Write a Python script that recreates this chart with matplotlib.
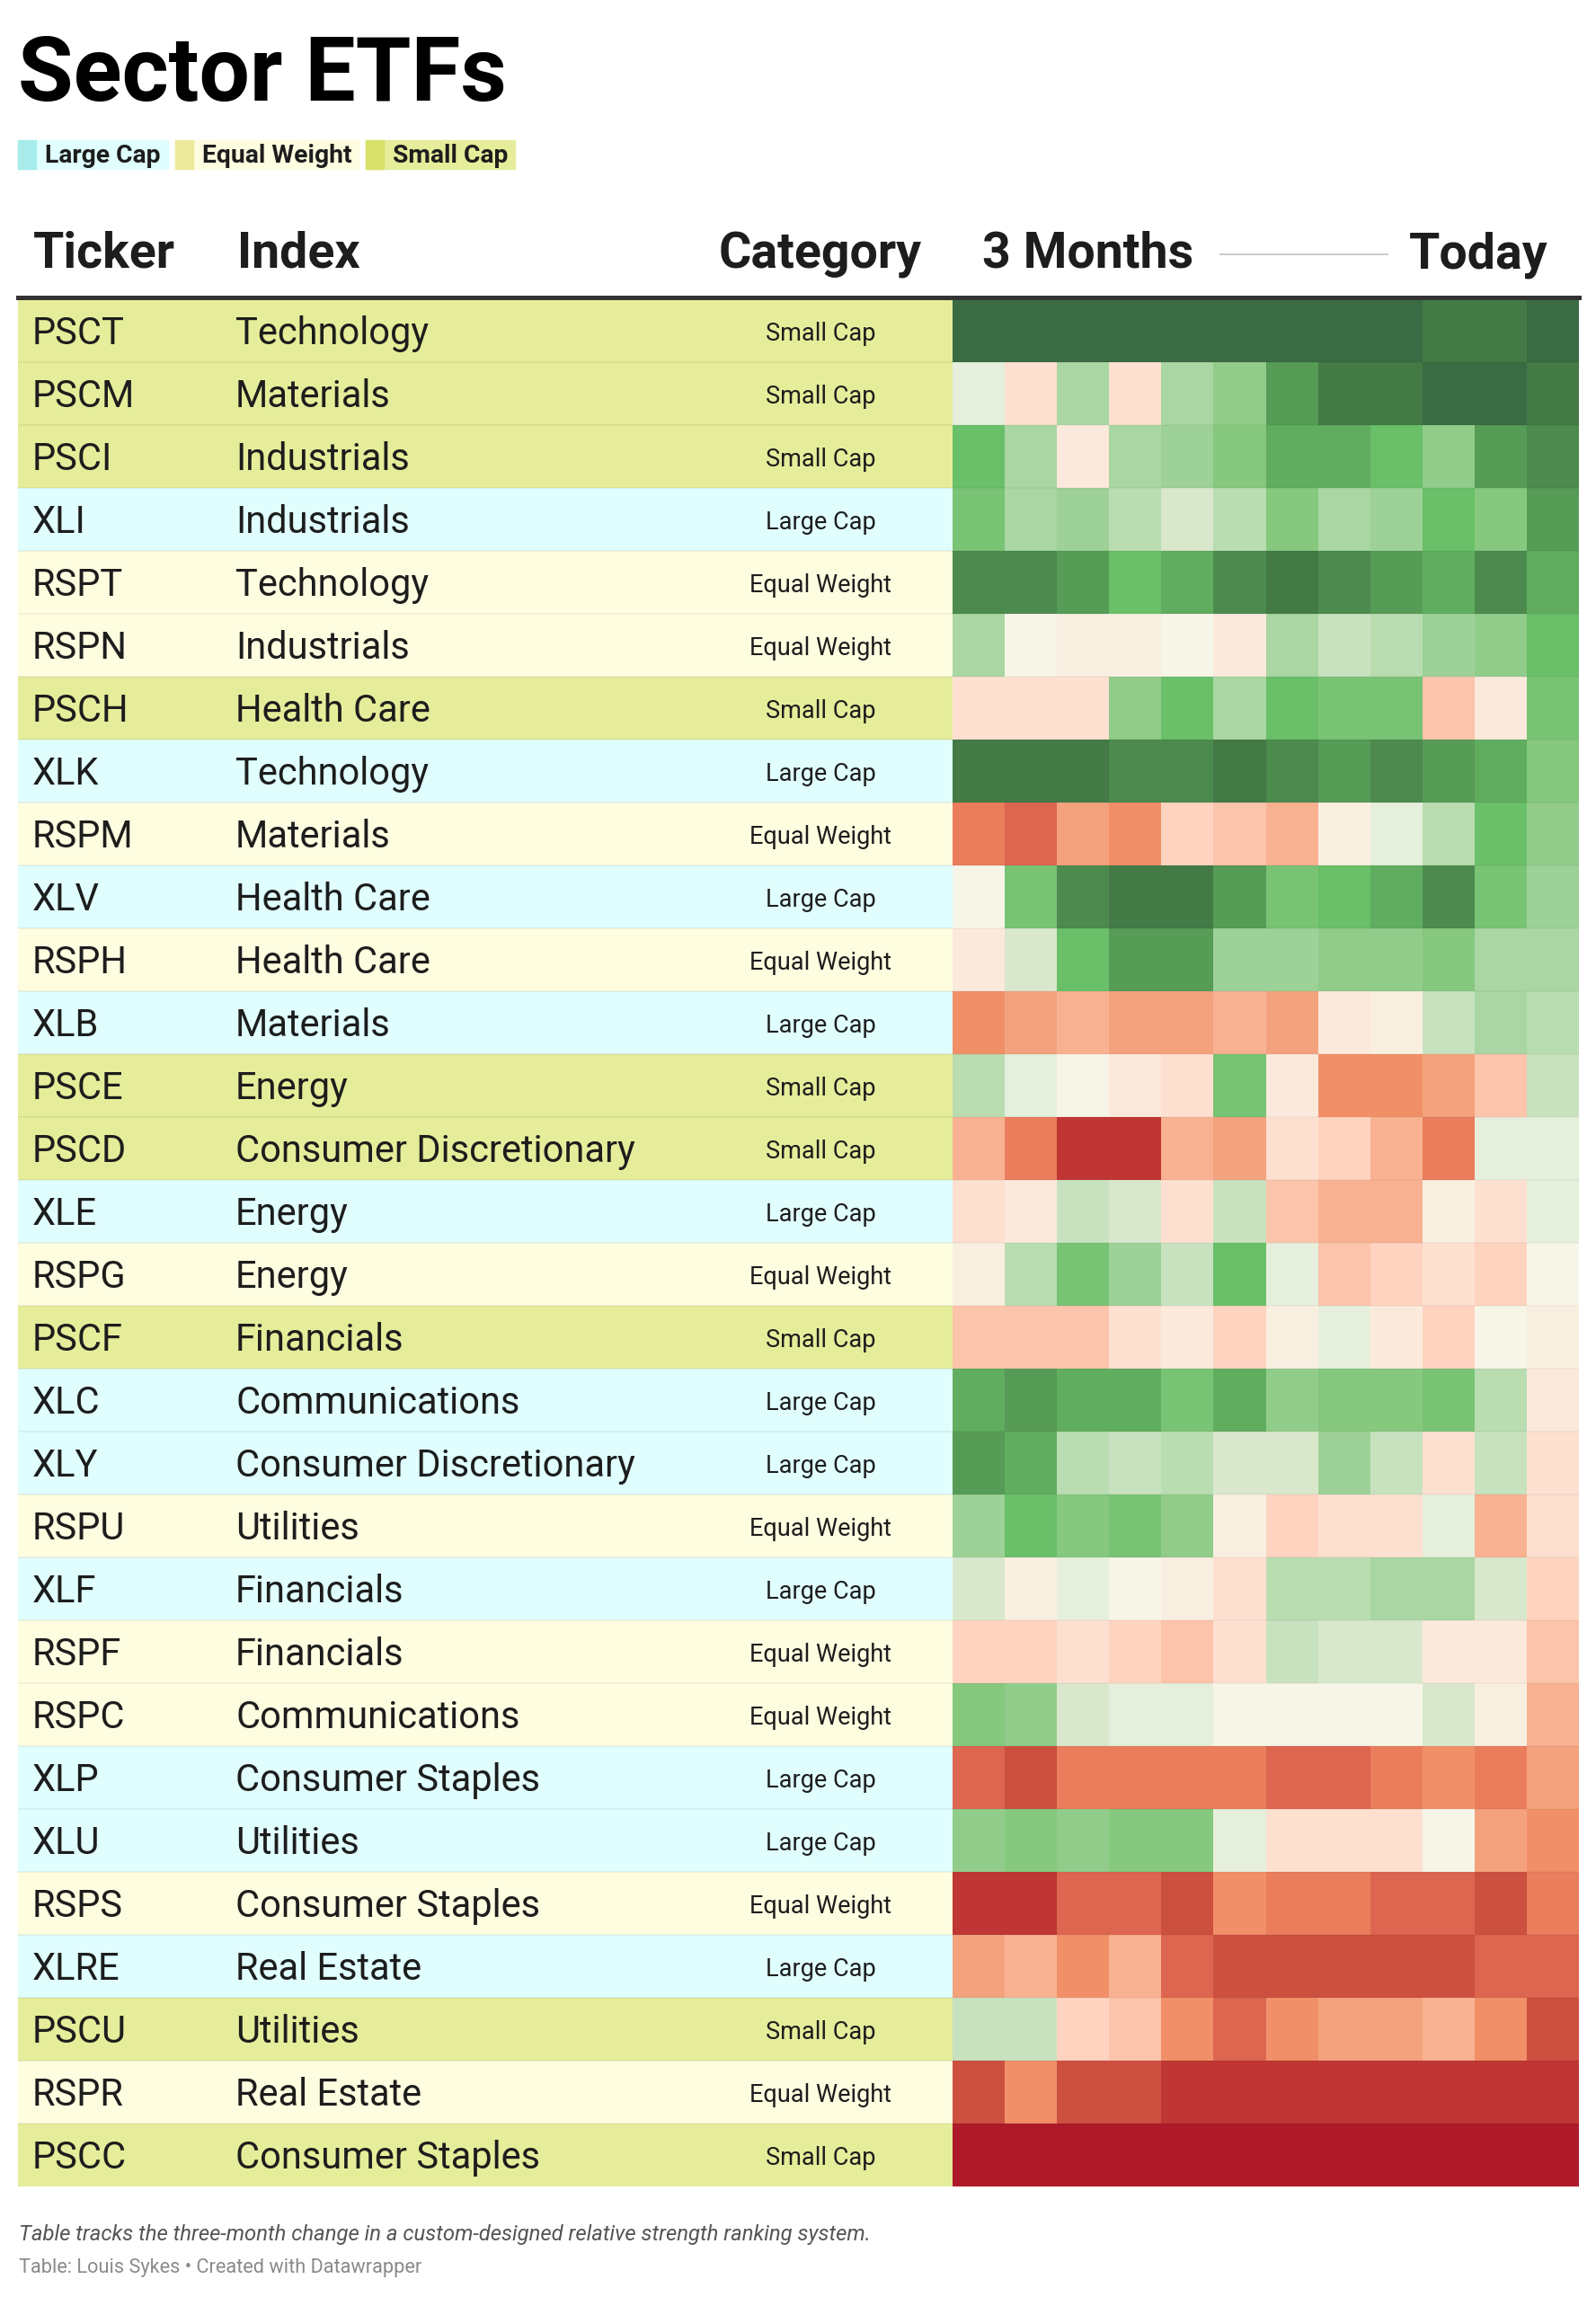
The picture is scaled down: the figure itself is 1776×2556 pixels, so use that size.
import matplotlib
matplotlib.use("Agg")
import numpy as np
import matplotlib.pyplot as plt
from matplotlib.colors import ListedColormap
from matplotlib.patches import Rectangle
from matplotlib.lines import Line2D

plt.rcParams['font.family'] = ['Roboto', 'DejaVu Sans']

# --- data -----------------------------------------------------------------
tickers = ["PSCT", "PSCM", "PSCI", "XLI", "RSPT", "RSPN", "PSCH", "XLK", "RSPM", "XLV",
           "RSPH", "XLB", "PSCE", "PSCD", "XLE", "RSPG", "PSCF", "XLC", "XLY", "RSPU",
           "XLF", "RSPF", "RSPC", "XLP", "XLU", "RSPS", "XLRE", "PSCU", "RSPR", "PSCC"]

sectors = ["Technology", "Materials", "Industrials", "Industrials", "Technology",
           "Industrials", "Health Care", "Technology", "Materials", "Health Care",
           "Health Care", "Materials", "Energy", "Consumer Discretionary", "Energy",
           "Energy", "Financials", "Communications", "Consumer Discretionary", "Utilities",
           "Financials", "Financials", "Communications", "Consumer Staples", "Utilities",
           "Consumer Staples", "Real Estate", "Utilities", "Real Estate", "Consumer Staples"]

categories = ["Small Cap", "Small Cap", "Small Cap", "Large Cap", "Equal Weight",
              "Equal Weight", "Small Cap", "Large Cap", "Equal Weight", "Large Cap",
              "Equal Weight", "Large Cap", "Small Cap", "Small Cap", "Large Cap",
              "Equal Weight", "Small Cap", "Large Cap", "Large Cap", "Equal Weight",
              "Large Cap", "Equal Weight", "Equal Weight", "Large Cap", "Large Cap",
              "Equal Weight", "Large Cap", "Small Cap", "Equal Weight", "Small Cap"]

# relative-strength level, 3 months ago -> today (12 steps)
strength = [
    [15, 15, 15, 15, 15, 15, 15, 15, 15, 14, 14, 15],
    [1, -3, 5, -3, 5, 7, 12, 14, 14, 15, 15, 14],
    [10, 5, -2, 5, 6, 8, 11, 11, 10, 7, 12, 13],
    [9, 5, 6, 4, 2, 4, 8, 5, 6, 10, 8, 12],
    [13, 13, 12, 10, 11, 13, 14, 13, 12, 11, 13, 11],
    [5, 0, -1, -1, 0, -2, 5, 3, 4, 6, 7, 10],
    [-3, -3, -3, 7, 10, 5, 10, 9, 9, -5, -2, 9],
    [14, 14, 14, 13, 13, 14, 13, 12, 13, 12, 11, 8],
    [-9, -10, -7, -8, -4, -5, -6, -1, 1, 4, 10, 7],
    [0, 9, 13, 14, 14, 12, 9, 10, 11, 13, 9, 6],
    [-2, 2, 10, 12, 12, 6, 6, 7, 7, 8, 5, 5],
    [-8, -7, -6, -7, -7, -6, -7, -2, -1, 3, 5, 4],
    [4, 1, 0, -2, -3, 9, -2, -8, -8, -7, -5, 3],
    [-6, -9, -12, -12, -6, -7, -3, -4, -6, -9, 1, 1],
    [-3, -2, 3, 2, -3, 3, -5, -6, -6, -1, -3, 1],
    [-1, 4, 9, 6, 3, 10, 1, -5, -4, -3, -4, 0],
    [-5, -5, -5, -3, -2, -4, -1, 1, -2, -4, 0, -1],
    [11, 12, 11, 11, 9, 11, 7, 8, 8, 9, 4, -2],
    [12, 11, 4, 3, 4, 2, 2, 6, 3, -3, 3, -3],
    [6, 10, 8, 9, 7, -1, -4, -3, -3, 1, -6, -3],
    [2, -1, 1, 0, -1, -3, 4, 4, 5, 5, 2, -4],
    [-4, -4, -3, -4, -5, -3, 3, 2, 2, -2, -2, -5],
    [8, 7, 2, 1, 1, 0, 0, 0, 0, 2, -1, -6],
    [-10, -11, -9, -9, -9, -9, -10, -10, -9, -8, -9, -7],
    [7, 8, 7, 8, 8, 1, -3, -3, -3, 0, -7, -8],
    [-12, -12, -10, -10, -11, -8, -9, -9, -10, -10, -11, -9],
    [-7, -6, -8, -6, -10, -11, -11, -11, -11, -11, -10, -10],
    [3, 3, -4, -5, -8, -10, -8, -7, -7, -6, -8, -11],
    [-11, -8, -11, -11, -12, -12, -12, -12, -12, -12, -12, -12],
    [-13, -13, -13, -13, -13, -13, -13, -13, -13, -13, -13, -13],
]

legend_labels = ["Large Cap", "Equal Weight", "Small Cap"]

# --- styling --------------------------------------------------------------
W, H = 1776, 2556
row_bg = {"Large Cap": "#e0fefe", "Equal Weight": "#fefde0", "Small Cap": "#e5ed9a"}
swatch = {"Large Cap": "#a8ecec", "Equal Weight": "#ece99c", "Small Cap": "#d8e06b"}
level_colors = ['#af1a2b', '#bf3634', '#cc5040', '#dc6650', '#e97d5c', '#f19068',
                '#f4a27e', '#f8b292', '#fbc4ab', '#fed3c0', '#fde0d0', '#fbe9dc',
                '#f9efe1', '#f7f5e8', '#e6efdc', '#d9e8cc', '#c8e2bf', '#b9dcb0',
                '#a9d6a2', '#9dd197', '#92cc8b', '#85c87e', '#79c374', '#6abf69',
                '#60ad5f', '#569b56', '#4c8a4e', '#437a46', '#3b6b42']
cmap = ListedColormap(level_colors)
txt = "#1d1d1d"


def fx(x):
    return x / W


def fy(y):
    return 1 - y / H


fig = plt.figure(figsize=(W / 100, H / 100), dpi=100)
fig.patch.set_facecolor("white")

n = len(tickers)
top, bottom = 333, 2433
left, split, right = 20, 1060, 1757

# table part
ax = fig.add_axes([fx(left), fy(bottom), (split - left) / W, (bottom - top) / H])
ax.set_xlim(left, split)
ax.set_ylim(n, 0)
ax.axis("off")
ax.barh(np.arange(n) + 0.5, split - left, left=left, height=1,
        color=[row_bg[c] for c in categories])
ax.hlines(np.arange(1, n), left, split, color="black", alpha=0.06, lw=1.2)
for i in range(n):
    ax.text(36, i + 0.71, tickers[i], fontsize=30, color=txt, va="baseline")
    ax.text(262, i + 0.71, sectors[i], fontsize=30, color=txt, va="baseline")
    ax.text(913, i + 0.66, categories[i], fontsize=19.5, color=txt, va="baseline",
            ha="center")

# heatmap part
hx = fig.add_axes([fx(split), fy(bottom), (right - split) / W, (bottom - top) / H])
vals = np.array(strength)
hx.pcolormesh(np.arange(vals.shape[1] + 1), np.arange(n + 1), vals, cmap=cmap,
              vmin=-13.5, vmax=15.5)
hx.hlines(np.arange(1, n), 0, vals.shape[1], color="black", alpha=0.04, lw=1.2)
hx.set_xlim(0, vals.shape[1])
hx.set_ylim(n, 0)
hx.axis("off")

# title
fig.text(fx(20), fy(112), "Sector ETFs", fontsize=72, fontweight="bold",
         color="black", va="baseline")

# legend
renderer = fig.canvas.get_renderer()
x0 = 20
for lab in legend_labels:
    t = fig.text(fx(x0 + 30), fy(181), lab, fontsize=20.3, fontweight="bold",
                 color=txt, va="baseline")
    bb = t.get_window_extent(renderer)
    x1 = bb.x1 + 8
    fig.add_artist(Rectangle((fx(x0), fy(188)), (x1 - x0) / W, 32 / H,
                             transform=fig.transFigure, color=row_bg[lab], zorder=0))
    fig.add_artist(Rectangle((fx(x0), fy(188)), 20 / W, 32 / H,
                             transform=fig.transFigure, color=swatch[lab], zorder=0))
    x0 = x1 + 8

# column headers
hdr = dict(fontsize=40, fontweight="bold", color=txt, va="baseline")
fig.text(fx(37), fy(298), "Ticker", **hdr)
fig.text(fx(264), fy(298), "Index", **hdr)
fig.text(fx(913), fy(298), "Category", ha="center", **hdr)
fig.text(fx(1093), fy(298), "3 Months", **hdr)
fig.text(fx(1722), fy(298), "Today", ha="right", **hdr)
fig.add_artist(Line2D([fx(1358), fx(1544)], [fy(283), fy(283)],
                      transform=fig.transFigure, color="#cccccc", lw=1.5))
fig.add_artist(Line2D([fx(left), fx(right)], [fy(330.5), fy(330.5)],
                      transform=fig.transFigure, color="#333333", lw=3.6))

# footer
fig.text(fx(21), fy(2493),
         "Table tracks the three-month change in a custom-designed relative strength ranking system.",
         fontsize=17.2, style="italic", color="#555555", va="baseline")
fig.text(fx(21), fy(2529), "Table: Louis Sykes \u2022 Created with Datawrapper",
         fontsize=15.7, color="#8a8a8a", va="baseline")

fig.savefig("out.png", dpi=100)
